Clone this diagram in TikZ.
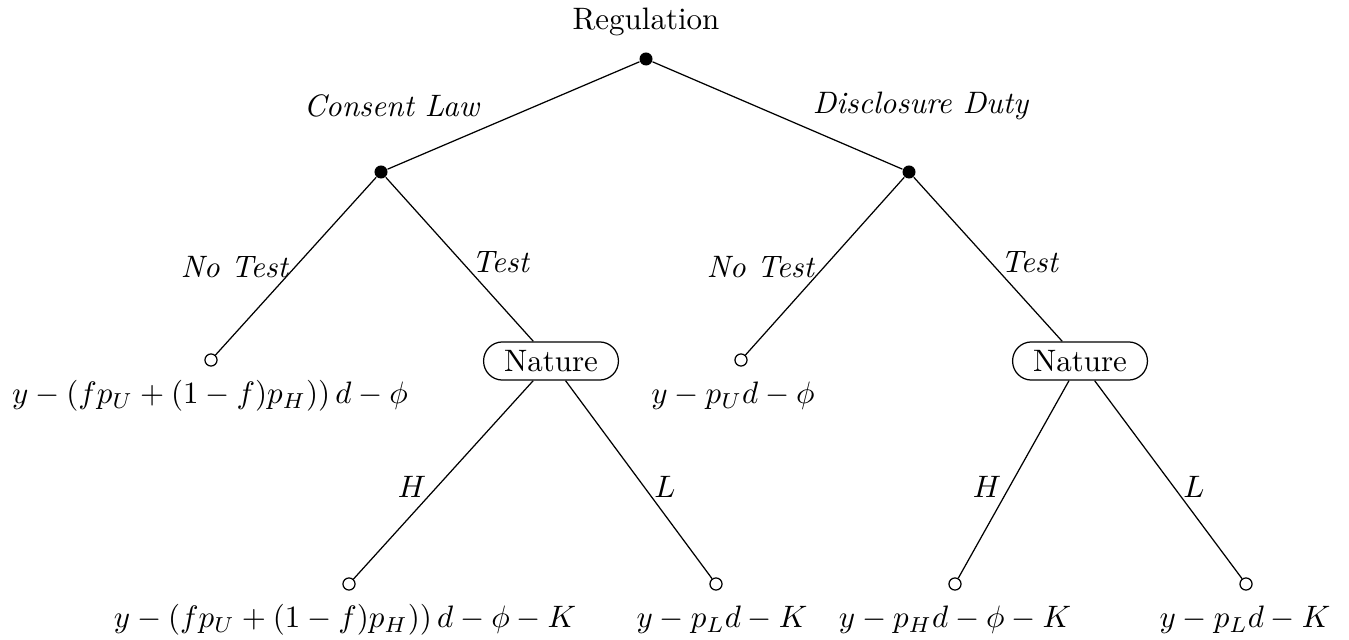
\documentclass[tikz,border=0pt]{standalone}
\begin{document}
\begin{tikzpicture}[x=0.3226pt,y=-0.3226pt,
  dec/.style={circle,fill=black,inner sep=0pt,minimum size=4.2pt},
  leaf/.style={circle,draw,fill=white,inner sep=0pt,minimum size=3.9pt,line width=0.4pt},
  chance/.style={rectangle,draw,rounded corners=6.1pt,inner sep=0pt,minimum height=12.3pt,minimum width=43.5pt},
  br/.style={line width=0.4pt},
  lab/.style={inner sep=0pt}]
\useasboundingbox (0,0) rectangle (1349,640);
% nodes
\node[dec] (r) at (646,59) {};
\node[lab] (rl) at (646,22) {Regulation};
\node[dec] (c) at (381,172) {};
\node[dec] (d) at (909,172) {};
\node[leaf] (c1) at (211,360) {};
\node[chance] (cn) at (551,361) {Nature};
\node[leaf] (d1) at (741,360) {};
\node[chance] (dn) at (1080,361) {Nature};
\node[leaf] (ch) at (349,584) {};
\node[leaf] (cl) at (716,584) {};
\node[leaf] (dh) at (955,584) {};
\node[leaf] (dl) at (1246,584) {};
% branches
\draw[br] (r) -- (c);
\draw[br] (r) -- (d);
\draw[br] (c) -- (c1);
\draw[br] (c) -- (cn);
\draw[br] (d) -- (d1);
\draw[br] (d) -- (dn);
\draw[br] (cn) -- (ch);
\draw[br] (cn) -- (cl);
\draw[br] (dn) -- (dh);
\draw[br] (dn) -- (dl);
% branch labels
\node[lab] at (392,106) {\textit{Consent Law}};
\node[lab] at (921,106) {\textit{Disclosure Duty}};
\node[lab] at (235,267) {\textit{No Test}};
\node[lab] at (501,262) {\textit{Test}};
\node[lab] at (761,267) {\textit{No Test}};
\node[lab] at (1030,262) {\textit{Test}};
\node[lab] at (412,487) {$H$};
\node[lab] at (665,487) {$L$};
\node[lab] at (987,487) {$H$};
\node[lab] at (1194,487) {$L$};
% payoffs
\node[lab] (pc1) at (210,396) {$y-\left(fp_U+(1-f)p_H)\right)d-\phi$};
\node[lab] (pd1) at (733,396) {$y-p_Ud-\phi$};
\node[lab] (pch) at (345,620) {$y-\left(fp_U+(1-f)p_H)\right)d-\phi-K$};
\node[lab] (pcl) at (722,620) {$y-p_Ld-K$};
\node[lab] (pdh) at (955,620) {$y-p_Hd-\phi-K$};
\node[lab] (pdl) at (1245,620) {$y-p_Ld-K$};
\end{tikzpicture}
\end{document}
